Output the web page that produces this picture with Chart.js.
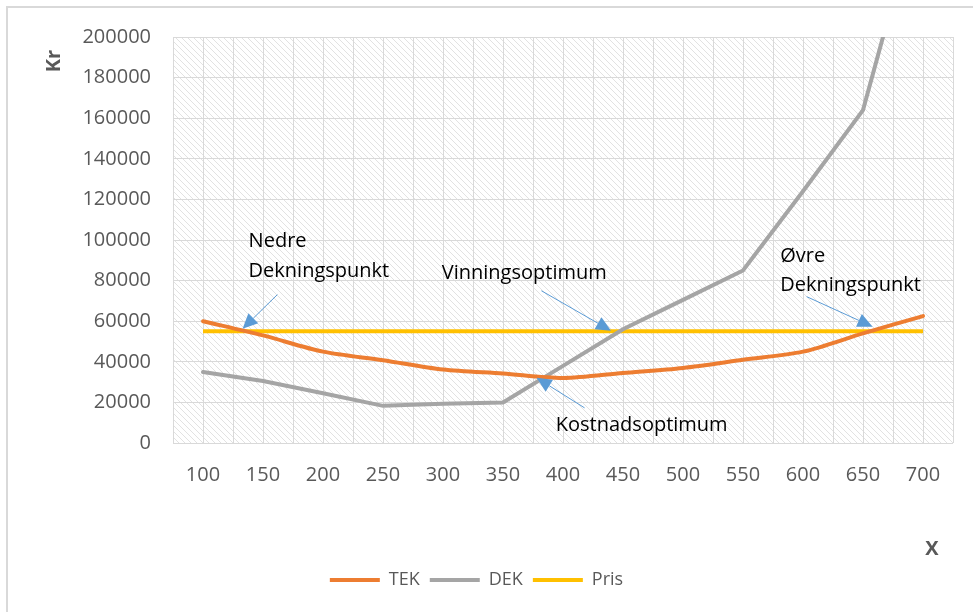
<!DOCTYPE html>
<html>
<head>
<meta charset="utf-8">
<script src="https://cdn.jsdelivr.net/npm/chart.js@4/dist/chart.umd.min.js"></script>
<style>
  html, body { margin: 0; padding: 0; background: #fff; }
  #wrap { position: relative; width: 973px; height: 612px; overflow: hidden; }
  #frame { position: absolute; left: 6px; top: 6px; width: 1200px; height: 800px;
           border-left: 2px solid #d9d9d9; border-top: 2px solid #d9d9d9; }
  canvas { position: absolute; left: 0; top: 0; }
</style>
</head>
<body>
<div id="wrap">
  <div id="frame"></div>
  <canvas id="chart" width="973" height="612"></canvas>
</div>
<script>
// x-verdier (antall)
const xValues = [100, 150, 200, 250, 300, 350, 400, 450, 500, 550, 600, 650, 700];
// totale enhetskostnader
const tek = [60000, 53000, 45000, 40800, 36200, 34200, 32000, 34500, 37000, 41000, 45000, 54000, 62500];
// differanse-enhetskostnader
const dek = [35000, 30500, 24500, 18300, 19300, 20000, 38000, 56000, 70500, 85000, 124000, 164000, 272000];
// pris
const pris = [55000, 55000, 55000, 55000, 55000, 55000, 55000, 55000, 55000, 55000, 55000, 55000, 55000];

const yTicks = { min: 0, max: 200000, step: 20000 };

// tekst og piler i dataverdier (x, kr)
const notes = [
  { text: 'Nedre', x: 138, y: 99500 },
  { text: 'Dekningspunkt', x: 138, y: 84800 },
  { text: 'Vinningsoptimum', x: 299, y: 83500 },
  { text: '\u00d8vre', x: 581, y: 91900 },
  { text: 'Dekningspunkt', x: 581, y: 77500 },
  { text: 'Kostnadsoptimum', x: 394, y: 8900 }
];
const arrows = [
  { from: [162, 73100], to: [133, 56300] },
  { from: [382, 75000], to: [440, 55300] },
  { from: [603, 72100], to: [658, 57300] },
  { from: [418, 17300], to: [378, 32100] }
];

const toPoints = arr => arr.map((v, i) => ({ x: xValues[i], y: v }));

function makeHatch() {
  const s = 6;
  const c = document.createElement('canvas');
  c.width = s; c.height = s;
  const g = c.getContext('2d');
  g.strokeStyle = '#e2e2e2';
  g.lineWidth = 1;
  g.beginPath();
  g.moveTo(0, 0); g.lineTo(s, s);
  g.moveTo(-s, 0); g.lineTo(s, 2 * s);
  g.moveTo(0, -s); g.lineTo(2 * s, s);
  g.stroke();
  return c;
}

const hatchPlugin = {
  id: 'hatch',
  beforeDraw(chart) {
    const { ctx, chartArea: a } = chart;
    ctx.save();
    ctx.fillStyle = ctx.createPattern(makeHatch(), 'repeat');
    ctx.fillRect(a.left, a.top, a.right - a.left, a.bottom - a.top);
    ctx.restore();
  }
};

const notePlugin = {
  id: 'notes',
  afterDatasetsDraw(chart) {
    const { ctx, chartArea: a } = chart;
    const xs = chart.scales.x, ys = chart.scales.y;
    ctx.save();
    // tekster
    ctx.fillStyle = '#000';
    ctx.font = '20px "Open Sans"';
    ctx.textAlign = 'left';
    ctx.textBaseline = 'middle';
    notes.forEach(n => ctx.fillText(n.text, xs.getPixelForValue(n.x), ys.getPixelForValue(n.y)));
    // piler
    ctx.strokeStyle = '#5b9bd5';
    ctx.fillStyle = '#5b9bd5';
    ctx.lineWidth = 1;
    arrows.forEach(ar => {
      const x0 = xs.getPixelForValue(ar.from[0]), y0 = ys.getPixelForValue(ar.from[1]);
      const x1 = xs.getPixelForValue(ar.to[0]), y1 = ys.getPixelForValue(ar.to[1]);
      const ang = Math.atan2(y1 - y0, x1 - x0);
      const len = 15, half = 7;
      const bx = x1 - Math.cos(ang) * len, by = y1 - Math.sin(ang) * len;
      ctx.beginPath();
      ctx.moveTo(x0, y0);
      ctx.lineTo(bx, by);
      ctx.stroke();
      ctx.beginPath();
      ctx.moveTo(x1, y1);
      ctx.lineTo(bx + Math.sin(ang) * half, by - Math.cos(ang) * half);
      ctx.lineTo(bx - Math.sin(ang) * half, by + Math.cos(ang) * half);
      ctx.closePath();
      ctx.fill();
    });
    // aksetitler
    ctx.fillStyle = '#595959';
    ctx.font = 'bold 20px "Open Sans"';
    ctx.textAlign = 'center';
    ctx.fillText('X', a.right - 21, a.bottom + 106);
    ctx.translate(a.left - 119, a.top + 24);
    ctx.rotate(-Math.PI / 2);
    ctx.fillText('Kr', 0, 0);
    ctx.restore();
  }
};

const gridColor = '#d9d9d9';
const tickFont = { family: 'Open Sans', size: 20 };

new Chart(document.getElementById('chart').getContext('2d'), {
  type: 'line',
  data: {
    datasets: [
      { label: 'TEK', data: toPoints(tek), borderColor: '#ed7d31', backgroundColor: '#ed7d31',
        borderWidth: 4, pointRadius: 0, pointStyle: 'line', tension: 0.3, borderCapStyle: 'round' },
      { label: 'DEK', data: toPoints(dek), borderColor: '#a5a5a5', backgroundColor: '#a5a5a5',
        borderWidth: 4, pointRadius: 0, pointStyle: 'line', tension: 0, borderCapStyle: 'round' },
      { label: 'Pris', data: toPoints(pris), borderColor: '#ffc000', backgroundColor: '#ffc000',
        borderWidth: 4, pointRadius: 0, pointStyle: 'line', tension: 0 }
    ]
  },
  options: {
    responsive: false,
    animation: false,
    layout: { padding: { left: 0, top: 37, right: 20, bottom: 13 } },
    plugins: {
      legend: {
        position: 'bottom',
        labels: {
          usePointStyle: true,
          pointStyleWidth: 50,
          padding: 10,
          color: '#595959',
          font: { family: 'Open Sans', size: 18 }
        }
      },
      tooltip: { enabled: false }
    },
    scales: {
      x: {
        type: 'linear',
        min: 75,
        max: 725,
        afterFit: s => { s.height = 118; },
        border: { display: false },
        grid: { color: gridColor, drawTicks: false },
        ticks: {
          stepSize: 25,
          autoSkip: false,
          maxRotation: 0,
          padding: 20,
          color: '#595959',
          font: tickFont,
          callback: v => (v % 50 === 0 && v >= 100 && v <= 700) ? String(v) : ''
        }
      },
      y: {
        min: yTicks.min,
        max: yTicks.max,
        afterFit: s => { s.width = 173; },
        border: { display: false },
        grid: { color: gridColor, drawTicks: false },
        ticks: {
          stepSize: yTicks.step,
          padding: 22,
          color: '#595959',
          font: tickFont,
          callback: v => String(v)
        }
      }
    }
  },
  plugins: [hatchPlugin, notePlugin]
});
</script>
</body>
</html>
